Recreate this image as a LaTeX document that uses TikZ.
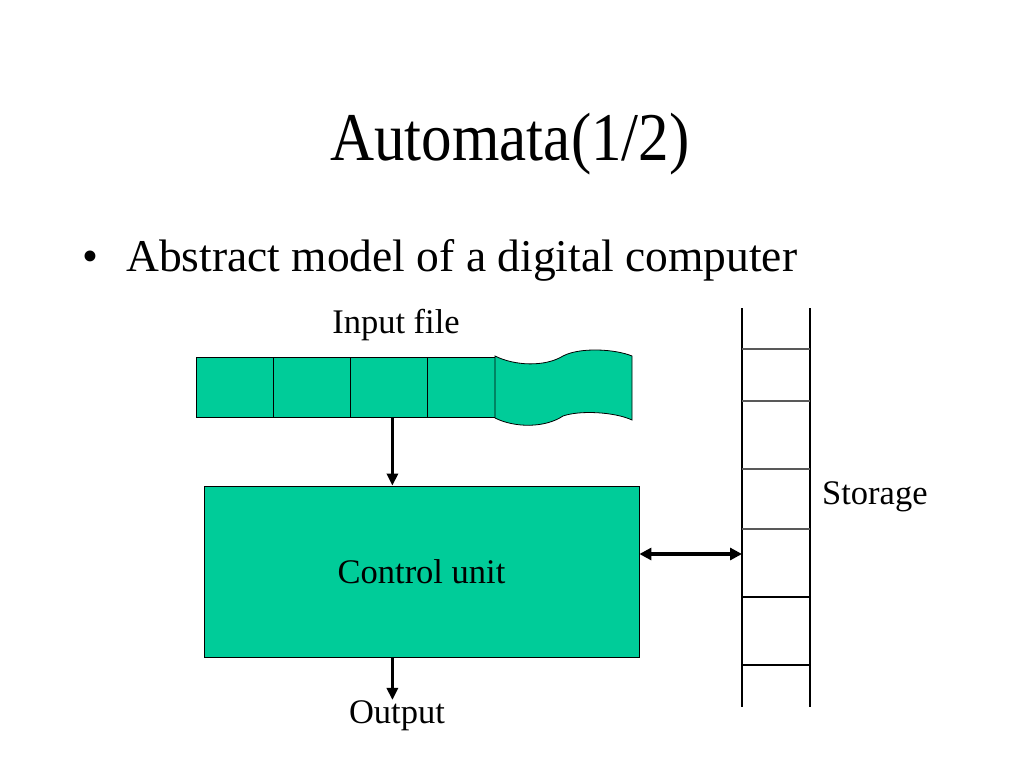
\documentclass[tikz,border=0pt]{standalone}
\usepackage{fontspec}
\setmainfont{Liberation Serif}
\usetikzlibrary{arrows.meta}
\definecolor{tapegreen}{RGB}{0,204,153}
\tikzset{
  cell/.style={draw=black, fill=tapegreen, line width=0.8pt, anchor=north west, minimum height=60pt, inner sep=0pt},
  unit/.style={draw=black, fill=tapegreen, line width=0.8pt, minimum width=435pt, minimum height=171pt, inner sep=0pt, font=\fontsize{34.5}{40}\selectfont},
  lbl/.style={inner sep=0pt, font=\fontsize{34.5}{40}\selectfont},
  arr/.style={line width=3.2pt, -{Triangle[length=12pt,width=11pt]}},
  dblarr/.style={line width=3.2pt, {Triangle[length=12pt,width=12pt]}-{Triangle[length=12pt,width=12pt]}},
  storeline/.style={line width=1.2pt}
}
\begin{document}
\begin{tikzpicture}[x=1pt,y=-1pt]
\useasboundingbox (0,0) rectangle (1024,768);

% title and bullet
\node[inner sep=0pt, anchor=base] (title) at (510,160) {\scalebox{1}[1.12]{\fontsize{61}{66}\selectfont Automata(1/2)}};
\node[inner sep=0pt, anchor=base west] (bullet) at (82,271) {\fontsize{45.5}{50}\selectfont \textbullet};
\node[inner sep=0pt, anchor=base west] (item) at (126,271) {\fontsize{45.5}{50}\selectfont Abstract model of a digital computer};

% input tape
\node[lbl, anchor=base] (input) at (396,333) {Input file};
\foreach \x/\w [count=\i from 0] in {196/77,273/77,350/77,427/68}
  \node[cell, minimum width=\w pt] (cell\i) at (\x,357) {};
\draw[fill=tapegreen, line width=0.8pt] (495,356) .. controls (515,366) and (545,367) .. (563,356)
  .. controls (580,347) and (615,349) .. (632,356) -- (632,420)
  .. controls (615,412) and (580,410) .. (563,416)
  .. controls (545,428) and (515,428) .. (495,418) -- cycle;

% control unit
\node[unit] (cu) at (421.5,571.5) {Control unit};
\node[lbl, anchor=base] (out) at (397,723) {Output};
\coordinate (feed) at ([xshift=3.5pt]cell2.south);
\draw[arr] (feed) -- (feed |- cu.north);
\draw[arr] (feed |- cu.south) -- (feed |- out.north);

% storage
\draw[storeline] (742,308) -- (742,707);
\draw[storeline] (810,308) -- (810,707);
\foreach \y in {349,401,469,529}
  \draw[line width=1.2pt, black!65] (742,\y) -- (810,\y);
\foreach \y in {597,665}
  \draw[line width=1.2pt] (742,\y) -- (810,\y);
\node[lbl, anchor=base west] (storage) at (822,504) {Storage};
\coordinate (st) at (742,554);
\draw[dblarr] (cu.east |- st) -- (st);
\end{tikzpicture}
\end{document}
